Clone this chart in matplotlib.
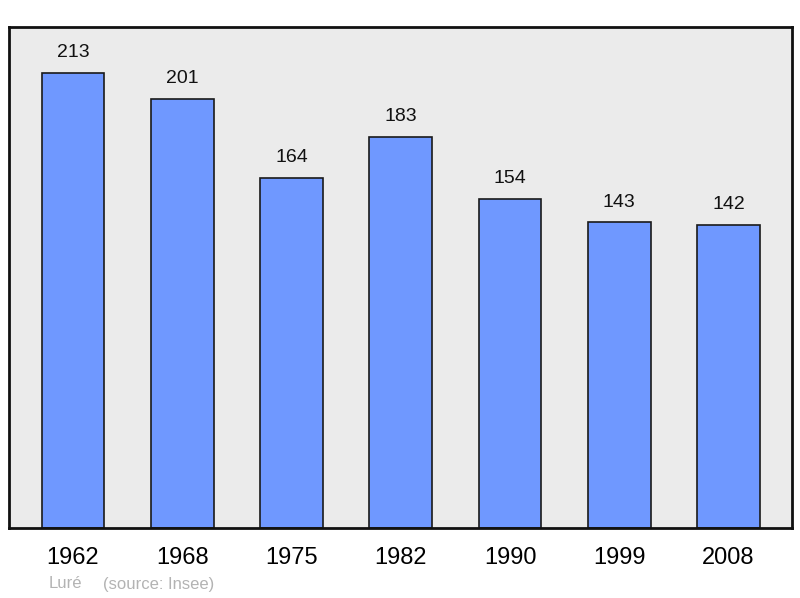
import matplotlib.pyplot as plt

# data
years = ['1962', '1968', '1975', '1982', '1990', '1999', '2008']
population = [213, 201, 164, 183, 154, 143, 142]

plt.rcParams['font.family'] = ['Liberation Sans', 'DejaVu Sans']

fig = plt.figure(figsize=(8, 5.98), dpi=100)
ax = fig.add_axes([9 / 800, 70 / 598, 783 / 800, 501 / 598])
ax.set_facecolor('#ebebeb')

x = list(range(len(years)))
bars = ax.bar(x, population, width=0.575, color='#6f98ff', edgecolor='#1a1a1a',
              linewidth=1.2, zorder=2)

for xi, v in zip(x, population):
    ax.text(xi, v + 5.5, str(v), ha='center', va='bottom', fontsize=14, color='#111111')

ax.set_xlim(-0.585, 6.58)
ax.set_ylim(0, 234.5)
ax.set_yticks([])
ax.set_xticks(x)
ax.set_xticklabels(years, fontsize=17)
ax.tick_params(axis='x', length=0, pad=14)

for s in ax.spines.values():
    s.set_linewidth(2)
    s.set_color('#111111')

fig.text(49 / 800, 1 - 584 / 598, 'Luré', fontsize=12, color='#b3b3b3', va='center')
fig.text(103 / 800, 1 - 584 / 598, '(source: Insee)', fontsize=12, color='#b3b3b3', va='center')

fig.savefig('out.png', dpi=100)
